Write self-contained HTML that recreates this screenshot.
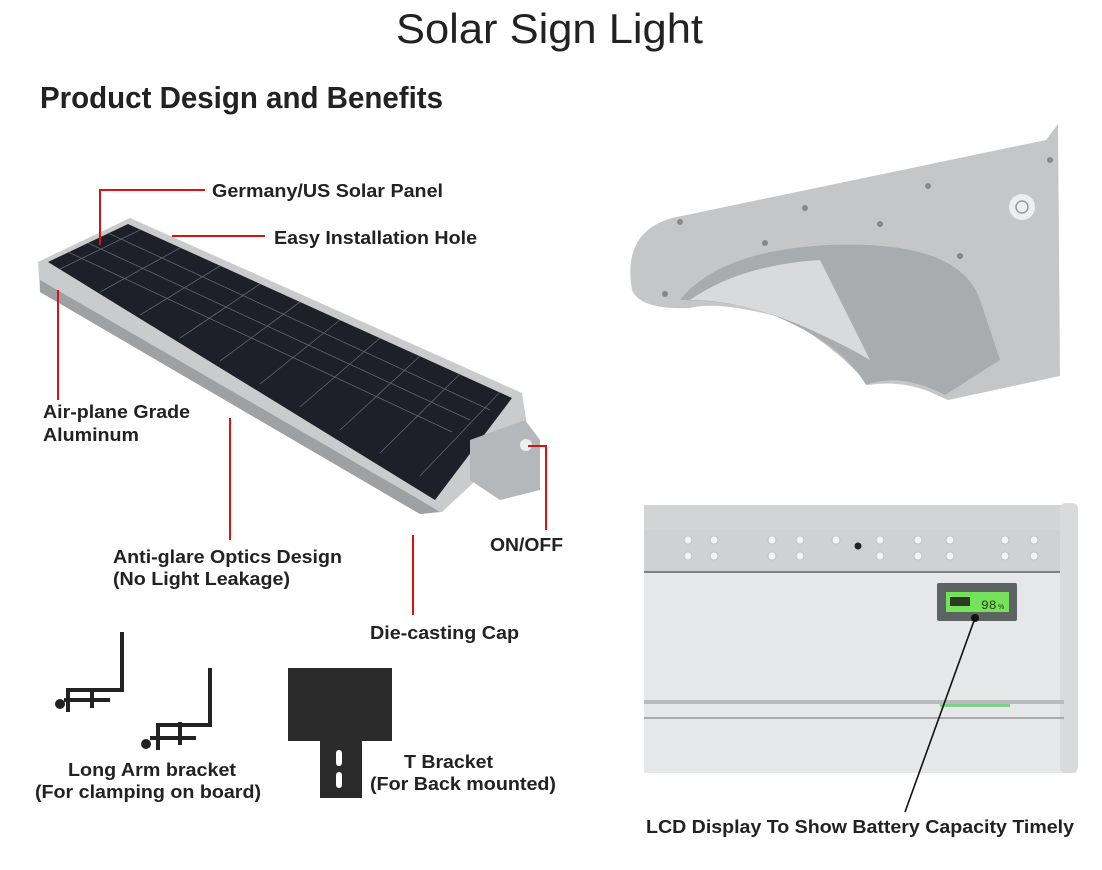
<!DOCTYPE html>
<html><head><meta charset="utf-8"><style>
body{margin:0;background:#fff;width:1102px;height:870px;overflow:hidden;font-family:"Liberation Sans",sans-serif}
svg{position:absolute;left:0;top:0}
</style></head><body>
<svg width="1102" height="870" viewBox="0 0 1102 870">
<text x="396" y="43" font-size="42" fill="#222" textLength="307" lengthAdjust="spacingAndGlyphs">Solar Sign Light</text>
<text x="40" y="108" font-size="31" font-weight="bold" fill="#222" textLength="403" lengthAdjust="spacingAndGlyphs">Product Design and Benefits</text>

<!-- solar panel -->
<polygon points="38,262 130,218 522,393 528,432 442,512 420,514 40,292" fill="#c9cbcd"/>
<polygon points="40,280 420,500 440,512 420,514 40,292" fill="#9ea1a4"/>
<polygon points="48,262 128,224 512,398 435,500" fill="#1d2028"/>
<g stroke="#6f7786" stroke-width="0.8" opacity="0.8">
<line x1="68" y1="252" x2="452" y2="432"/><line x1="88" y1="243" x2="470" y2="420"/><line x1="108" y1="233" x2="490" y2="410"/>
<line x1="60" y1="269" x2="140" y2="230"/><line x1="100" y1="292" x2="180" y2="248"/><line x1="140" y1="315" x2="220" y2="266"/><line x1="180" y1="338" x2="260" y2="284"/><line x1="220" y1="361" x2="300" y2="302"/><line x1="260" y1="384" x2="340" y2="320"/><line x1="300" y1="407" x2="380" y2="338"/><line x1="340" y1="430" x2="420" y2="356"/><line x1="380" y1="453" x2="460" y2="374"/><line x1="420" y1="476" x2="500" y2="392"/>
</g>
<polygon points="470,440 525,420 540,440 540,490 500,500 470,480" fill="#b5b8bb"/>
<circle cx="526" cy="445" r="6" fill="#eee"/>

<!-- red leaders -->
<g stroke="#d11" stroke-width="2" fill="none">
<polyline points="100,245 100,190 205,190"/>
<polyline points="172,236 265,236"/>
<polyline points="58,290 58,400"/>
<polyline points="230,418 230,540"/>
<polyline points="528,446 546,446 546,530"/>
<polyline points="413,535 413,615"/>
</g>
<g font-size="18" font-weight="bold" fill="#222" lengthAdjust="spacingAndGlyphs">
<text x="212" y="197" textLength="231" lengthAdjust="spacingAndGlyphs">Germany/US Solar Panel</text>
<text x="274" y="244" textLength="203" lengthAdjust="spacingAndGlyphs">Easy Installation Hole</text>
<text x="43" y="418" textLength="147" lengthAdjust="spacingAndGlyphs">Air-plane Grade</text>
<text x="43" y="441" textLength="96" lengthAdjust="spacingAndGlyphs">Aluminum</text>
<text x="113" y="563" textLength="229" lengthAdjust="spacingAndGlyphs">Anti-glare Optics Design</text>
<text x="113" y="585" textLength="177" lengthAdjust="spacingAndGlyphs">(No Light Leakage)</text>
<text x="490" y="551" textLength="73" lengthAdjust="spacingAndGlyphs">ON/OFF</text>
<text x="370" y="639" textLength="149" lengthAdjust="spacingAndGlyphs">Die-casting Cap</text>
<text x="68" y="776" textLength="168" lengthAdjust="spacingAndGlyphs">Long Arm bracket</text>
<text x="35" y="798" textLength="226" lengthAdjust="spacingAndGlyphs">(For clamping on board)</text>
<text x="404" y="768" textLength="89" lengthAdjust="spacingAndGlyphs">T Bracket</text>
<text x="370" y="790" textLength="186" lengthAdjust="spacingAndGlyphs">(For Back mounted)</text>
</g>

<!-- brackets -->
<g stroke="#222" stroke-width="4" fill="none">
<polyline points="122,632 122,690 68,690 68,712"/><line x1="64" y1="700" x2="110" y2="700"/><line x1="92" y1="688" x2="92" y2="708"/><circle cx="60" cy="704" r="3" fill="#222"/>
<polyline points="210,668 210,725 158,725 158,750"/><line x1="150" y1="738" x2="196" y2="738"/><line x1="180" y1="722" x2="180" y2="745"/><circle cx="146" cy="744" r="3" fill="#222"/>
</g>
<rect x="288" y="668" width="104" height="73" fill="#2a2a2a"/>
<rect x="320" y="740" width="42" height="58" fill="#2a2a2a"/>
<rect x="336" y="750" width="6" height="16" rx="3" fill="#fff"/><rect x="336" y="772" width="6" height="16" rx="3" fill="#fff"/>

<!-- top right fixture -->
<path d="M632,290 Q622,232 672,218 L1046,140 L1058,124 L1060,376 L948,400 L930,392 Q900,380 868,385 Q845,355 790,320 Q720,300 690,308 Q640,310 632,290 Z" fill="#c4c6c8"/>
<path d="M680,300 Q720,250 830,245 Q960,240 980,300 L1000,360 L945,395 Q900,372 866,385 Q840,340 760,310 Q720,300 680,300 Z" fill="#a9acaf"/>
<path d="M690,300 Q740,265 820,260 L870,360 Q845,345 800,325 Q740,300 690,300 Z" fill="#d8dadc"/>
<circle cx="1022" cy="207" r="13" fill="#eceeef"/><circle cx="1022" cy="207" r="6" fill="none" stroke="#999" stroke-width="1.5"/>
<g fill="#888"><circle cx="680" cy="222" r="3"/><circle cx="805" cy="208" r="3"/><circle cx="928" cy="186" r="3"/><circle cx="1050" cy="160" r="3"/><circle cx="765" cy="243" r="3"/><circle cx="880" cy="224" r="3"/><circle cx="665" cy="294" r="3"/><circle cx="960" cy="256" r="3"/></g>

<!-- LCD closeup -->
<rect x="644" y="505" width="432" height="268" fill="#e6e7e8"/>
<rect x="644" y="505" width="432" height="25" fill="#d2d4d6"/>
<rect x="644" y="530" width="420" height="42" fill="#cfd1d3"/>
<line x1="644" y1="572" x2="1064" y2="572" stroke="#7e8184" stroke-width="2"/>
<g fill="#f3f3f3" stroke="#aaa" stroke-width="0.6">
<circle cx="688" cy="540" r="4"/><circle cx="714" cy="540" r="4"/><circle cx="772" cy="540" r="4"/><circle cx="800" cy="540" r="4"/><circle cx="836" cy="540" r="4"/><circle cx="880" cy="540" r="4"/><circle cx="918" cy="540" r="4"/><circle cx="950" cy="540" r="4"/><circle cx="1005" cy="540" r="4"/><circle cx="1034" cy="540" r="4"/>
<circle cx="688" cy="556" r="4"/><circle cx="714" cy="556" r="4"/><circle cx="772" cy="556" r="4"/><circle cx="800" cy="556" r="4"/><circle cx="880" cy="556" r="4"/><circle cx="918" cy="556" r="4"/><circle cx="950" cy="556" r="4"/><circle cx="1005" cy="556" r="4"/><circle cx="1034" cy="556" r="4"/>
</g>
<circle cx="858" cy="546" r="3.5" fill="#222"/>
<rect x="1060" y="503" width="18" height="270" rx="6" fill="#d8dadc"/>
<rect x="644" y="700" width="420" height="4" fill="#b9bbbd"/>
<rect x="644" y="717" width="420" height="2" fill="#a8aaac"/>
<rect x="940" y="704" width="70" height="3" fill="#7fcf8a"/>
<rect x="937" y="583" width="80" height="38" rx="2" fill="#5d6361"/>
<rect x="946" y="592" width="63" height="20" fill="#74e35a"/>
<g fill="#2b3a22"><rect x="950" y="597" width="20" height="9"/></g>
<text x="981" y="609" font-size="13" fill="#2b3a22" font-family="Liberation Mono,monospace">98</text>
<text x="998" y="609" font-size="7" fill="#2b3a22">%</text>
<circle cx="975" cy="618" r="4" fill="#111"/>
<line x1="975" y1="618" x2="905" y2="812" stroke="#111" stroke-width="1.6"/>
<text x="646" y="833" font-size="18" font-weight="bold" fill="#222" textLength="428" lengthAdjust="spacingAndGlyphs">LCD Display To Show Battery Capacity Timely</text>
</svg>
</body></html>
